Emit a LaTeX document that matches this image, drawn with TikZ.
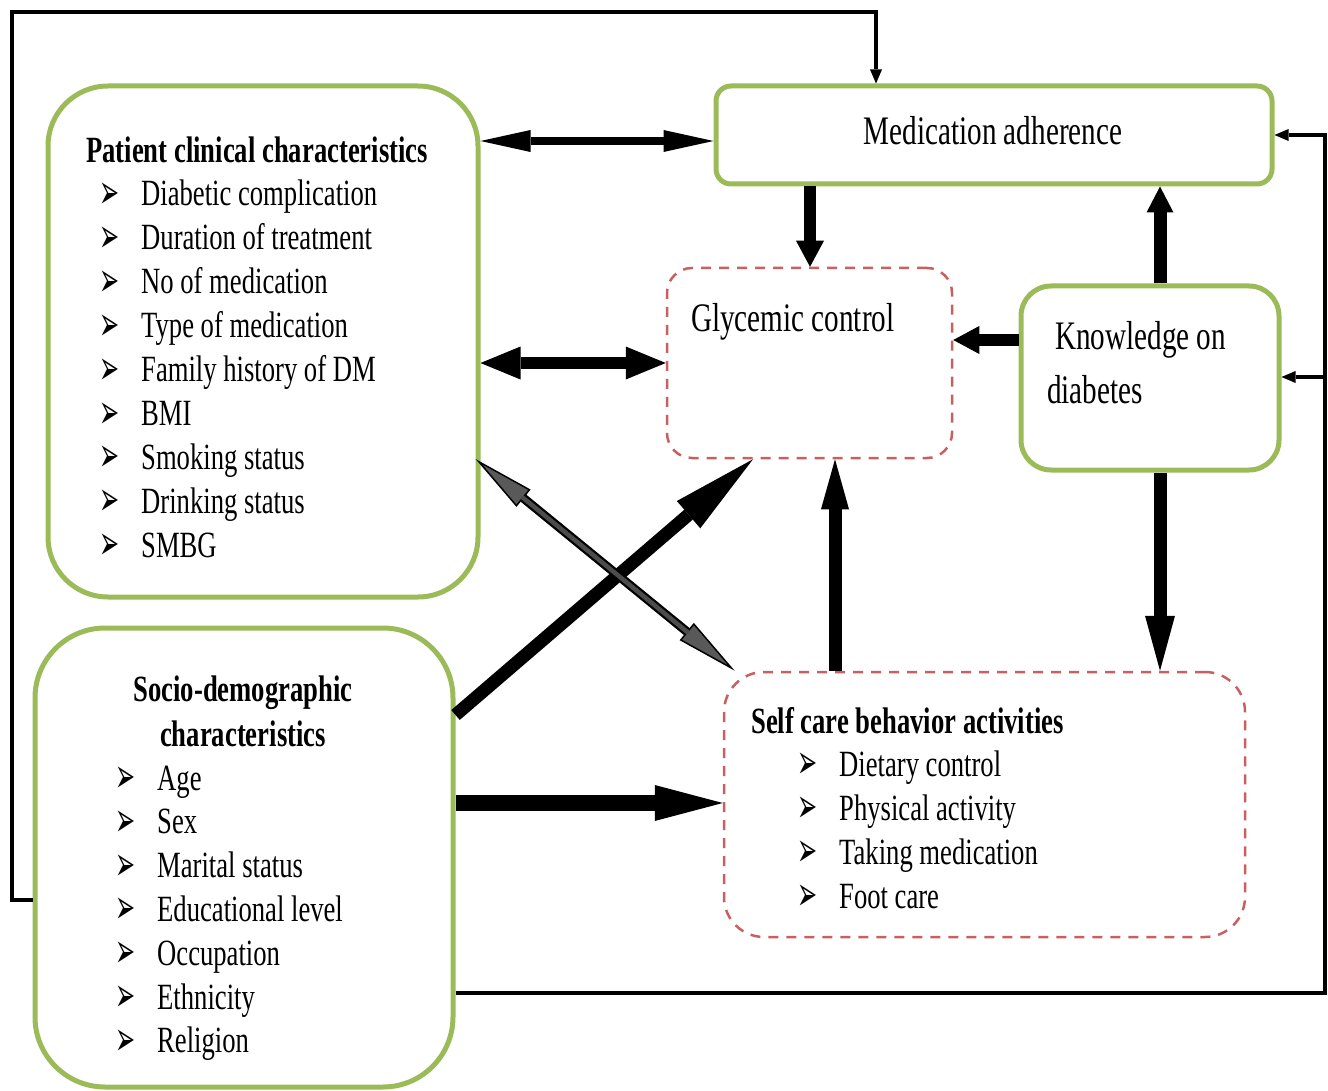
\documentclass[tikz,border=0pt]{standalone}
\usepackage{fontspec}
\setmainfont{Liberation Serif}[FakeStretch=0.72]
\newfontfamily\symfont{DejaVu Sans}[FakeStretch=0.5]
\usetikzlibrary{arrows.meta,calc}
\definecolor{boxgreen}{HTML}{9BBB59}
\definecolor{dashred}{HTML}{C96060}
\newcommand\bul{\smash{\symfont\fontsize{48}{48}\selectfont ➢}}
\begin{document}
\begin{tikzpicture}[x=1pt,y=-1pt,line join=miter,
  gbox/.style={draw=boxgreen, line width=5pt, rounded corners=#1, inner sep=0pt},
  rbox/.style={draw=dashred, line width=2.5pt, dash pattern=on 10pt off 8pt, rounded corners=#1, inner sep=0pt},
  txt/.style={font=\fontsize{37}{44}\selectfont, inner sep=0pt, anchor=base west},
  ltxt/.style={font=\fontsize{40.5}{44}\selectfont, inner sep=0pt, anchor=base west},
  btxt/.style={txt, font=\fontsize{37}{44}\selectfont\bfseries},
  bnode/.style={inner sep=0pt, anchor=base west},
  fb/.style={line width=3.2pt, -{Triangle[length=14pt,width=12pt,line width=0pt]}}
]
\useasboundingbox (0,0) rectangle (1328,1091);

% boxes
\node[gbox=60pt, minimum width=430pt, minimum height=511pt] (pat) at (263,341.5) {};
\node[gbox=70pt, minimum width=418pt, minimum height=459pt] (soc) at (244,857.5) {};
\node[gbox=15pt, minimum width=556pt, minimum height=98pt] (med) at (994,135) {};
\node[rbox=25pt, minimum width=285pt, minimum height=190pt] (gly) at (809.5,363) {};
\node[gbox=30pt, minimum width=258pt, minimum height=184pt] (kno) at (1150,378) {};
\node[rbox=40pt, minimum width=521pt, minimum height=265pt] (self) at (984.5,804.5) {};

% texts
\node[btxt] (patT) at (86,163) {Patient clinical characteristics};
\foreach \t [count=\i] in {Diabetic complication, Duration of treatment, No of medication, Type of medication, Family history of DM, BMI, Smoking status, Drinking status, SMBG}{
  \node[bnode] (pb\i) at (99,{208.5+43.9*(\i-1)}) {\bul};
  \node[txt] (pt\i) at (141,{206+43.9*(\i-1)}) {\t};
}
\node[btxt, anchor=base] (socT1) at (243,701) {Socio-demographic};
\node[btxt, anchor=base] (socT2) at (243,746) {characteristics};
\foreach \t [count=\i] in {Age, Sex, Marital status, Educational level, Occupation, Ethnicity, Religion}{
  \node[bnode] (sb\i) at (115,{792.5+43.8*(\i-1)}) {\bul};
  \node[txt] (st\i) at (157,{790+43.8*(\i-1)}) {\t};
}
\node[btxt] (selfT) at (751,733) {Self care behavior activities};
\foreach \t [count=\i] in {Dietary control, Physical activity, Taking medication, Foot care}{
  \node[bnode] (cb\i) at (797,{778.5+44*(\i-1)}) {\bul};
  \node[txt] (ct\i) at (839,{776+44*(\i-1)}) {\t};
}
\node[ltxt, anchor=base] (medT) at (993,145) {Medication adherence};
\node[ltxt] (glyT) at (691,331) {Glycemic control};
\node[ltxt] (knoT1) at (1055,349) {Knowledge on};
\node[ltxt] (knoT2) at (1047,403) {diabetes};

% thick arrows
\draw[line width=8pt, {Triangle[length=50pt,width=22pt,line width=0pt]}-{Triangle[length=50pt,width=22pt,line width=0pt]}]
  (pat.east |- 0,141) -- (med.west |- 0,141);
\draw[line width=12pt, {Triangle[length=40pt,width=33pt,line width=0pt]}-{Triangle[length=40pt,width=33pt,line width=0pt]}]
  (pat.east |- 0,363) -- (gly.west |- 0,363);
\draw[line width=12pt, -{Triangle[length=26pt,width=28pt,line width=0pt]}] (810,0 |- med.south) -- (810,0 |- gly.north);
\draw[line width=12pt, -{Triangle[length=26pt,width=28pt,line width=0pt]}] (kno.west |- 0,340) -- (gly.east |- 0,340);
\draw[line width=13pt, -{Triangle[length=26pt,width=27pt,line width=0pt]}] (1160,0 |- kno.north) -- (1160,0 |- med.south);
\draw[line width=13pt, -{Triangle[length=55pt,width=30pt,line width=0pt]}] (1160,0 |- kno.south) -- (1160,0 |- self.north);
\draw[line width=13pt, -{Triangle[length=50pt,width=28pt,line width=0pt]}] (835,0 |- self.north) -- (835,0 |- gly.south);
\draw[line width=16pt, -{Triangle[length=68pt,width=36pt,line width=0pt]}] (soc.east |- 0,803) -- (self.west |- 0,803);
\draw[line width=13pt, -{Triangle[length=85pt,width=36pt,line width=0pt]}] (soc.east |- 0,715) -- (753,0 |- gly.south);

% grey double arrow
\coordinate (g1) at ($(pat.east |- 0,459)+(-5,0)$);
\coordinate (g2) at ($(self.north west)+(12,0)$);
\draw[line width=9pt, {Triangle[length=62pt,width=22pt,fill=black!65,line width=1.5pt]}-{Triangle[length=62pt,width=22pt,fill=black!65,line width=1.5pt]}] (g1) -- (g2);
\draw[line width=4.5pt, black!70, shorten <=60pt, shorten >=60pt] (g1) -- (g2);

% feedback lines
\draw[fb] (soc.west |- 0,900) -| (12,12) -| (876,0 |- med.north);
\coordinate (rj) at (1325,377);
\draw[fb] (soc.east |- 0,993) -| (1325,0 |- med.east) -- (med.east);
\draw[fb] (rj) -- (kno.east |- rj);
\end{tikzpicture}
\end{document}
